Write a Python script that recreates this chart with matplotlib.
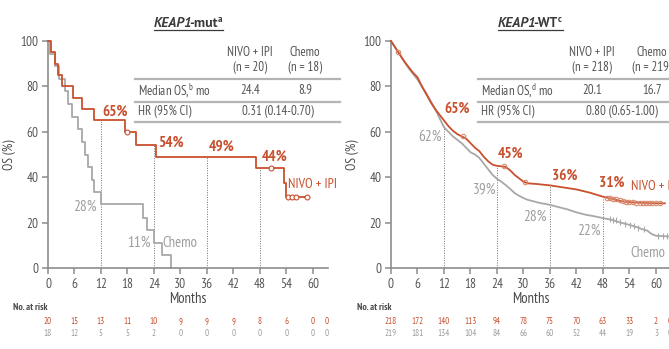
import matplotlib
matplotlib.use("Agg")
import matplotlib.pyplot as plt
from matplotlib import transforms
from matplotlib.lines import Line2D

NARROW = ['PT Sans Narrow', 'Archivo Narrow', 'Liberation Sans', 'DejaVu Sans']
plt.rcParams['font.family'] = NARROW
plt.rcParams['mathtext.fontset'] = 'custom'
plt.rcParams['mathtext.rm'] = 'PT Sans Narrow'

RED = '#c8502e'
GREY = '#a8a8a8'
GREY_TXT = '#9e9e9e'
DARK = '#4a4a4a'
AXC = '#8c8c8c'

# ---------------- data ----------------
# KEAP1-mut: Kaplan-Meier step curves (event times in months, OS %)
mut_nivo_t = [0, 0.6, 1.6, 2.3, 3.2, 5.7, 7.6, 10.4, 17.4, 20.0, 24.4, 47.0, 53.5, 53.8, 58.6]
mut_nivo_s = [100, 95, 90, 85, 80, 75, 70, 65, 60, 54, 49, 44, 37.5, 31.2, 31.2]
mut_nivo_cens_t = [17.8, 50.6, 54.4, 55.3, 56.2, 58.6]
mut_nivo_cens_s = [60, 44, 31.2, 31.2, 31.2, 31.2]

mut_chemo_t = [0, 0.5, 1.5, 2.5, 3.8, 4.6, 5.4, 6.8, 7.6, 8.3, 9.1, 9.9, 10.5, 11.95,
               21.4, 22.5, 24.0, 25.7, 27.8]
mut_chemo_s = [100, 94.4, 88.9, 83.3, 77.8, 72.2, 66.7, 61.1, 55.6, 50, 44.4, 38.9, 33.3, 28,
               22.2, 16.7, 11, 5.6, 0]

# KEAP1-WT: survival read at monthly points
wt_nivo_t = [0, 1, 2, 3, 4, 5, 6, 7, 8, 9, 10, 11, 12, 13, 14, 15, 16, 17, 18, 19, 20, 21,
             22, 23, 24, 25, 26, 27, 28, 29, 30, 31, 33, 36, 39, 42, 45, 48, 50, 52, 54, 56,
             58, 60, 62]
wt_nivo_s = [100, 97, 94, 91, 88.5, 86, 84, 80, 76.5, 73, 70, 67.5, 65, 62.5, 60.5, 59, 58,
             57, 55, 53, 51.5, 49, 47, 45.5, 45, 44.8, 44.5, 43, 41, 39.5, 38, 37.3, 37,
             36.4, 35.5, 34.6, 33.2, 31.4, 30.5, 29.5, 29, 28.8, 28.6, 28.5, 28.5]
wt_nivo_cens_t = [1.6, 16.3, 25.5, 30.3, 48.8, 49.5, 50.3, 51.0, 51.8, 52.5, 53.2, 54.0, 54.8,
                  55.5, 56.3, 57.0, 57.8, 58.5, 59.2, 60.0, 61.0]
wt_nivo_cens_s = [95, 58, 44.8, 38, 31, 30.8, 30.5, 30.2, 29.8, 29.5, 29.2, 29, 28.9, 28.8,
                  28.7, 28.7, 28.6, 28.6, 28.5, 28.5, 28.5]

wt_chemo_t = [0, 1, 2, 3, 4, 5, 6, 7, 8, 9, 10, 11, 12, 13, 14, 15, 16, 17, 18, 19, 20, 21,
              22, 23, 24, 25, 26, 27, 28, 29, 30, 31, 32, 33, 34, 35, 36, 38, 40, 42, 44, 46,
              48, 50, 52, 54, 56, 57, 58, 59, 60, 62, 63.4]
wt_chemo_s = [100, 97, 94, 91, 88, 85.5, 83, 80, 77, 73.5, 70, 66, 62, 60, 58, 56.5, 55, 53,
              51, 50, 48.5, 46, 43.5, 41, 39.3, 38, 36.5, 34.8, 33, 31.8, 30.8, 30, 29.5, 29,
              28.5, 28.2, 27.8, 26.8, 25.8, 24.5, 23.5, 22.8, 22, 21.2, 20, 19, 17.8, 17,
              16.5, 15, 14.2, 14, 13.8]
wt_chemo_cens_t = [49.5, 50.3, 51.0, 51.8, 53.0, 54.2, 55.0, 56.0, 57.2, 60.5, 61.5, 62.5]
wt_chemo_cens_s = [21.5, 21.2, 21, 20.2, 19.5, 19, 18.3, 17.8, 17, 14.2, 14, 13.9]

# landmark labels: month, value
mut_nivo_marks = [(12, 65), (24, 54), (36, 49), (48, 44)]
mut_chemo_marks = [(12, 28), (24, 11)]
wt_nivo_marks = [(12, 65), (24, 45), (36, 36), (48, 31)]
wt_chemo_marks = [(12, 62), (24, 39), (36, 28), (48, 22)]

# summary tables
mut_n = (20, 18)
mut_median = ('24.4', '8.9')
mut_hr = '0.31 (0.14-0.70)'
wt_n = (218, 219)
wt_median = ('20.1', '16.7')
wt_hr = '0.80 (0.65-1.00)'

# number at risk
risk_months = [0, 6, 12, 18, 24, 30, 36, 42, 48, 54, 60, 63.2]
risk_mut_nivo = [20, 15, 13, 11, 10, 9, 9, 9, 8, 6, 0, 0]
risk_mut_chemo = [18, 12, 5, 5, 2, 0, 0, 0, 0, 0, 0, 0]
risk_wt_nivo = [218, 172, 140, 113, 94, 78, 75, 70, 63, 33, 2, 0]
risk_wt_chemo = [219, 181, 134, 104, 84, 66, 60, 52, 44, 19, 3, 0]

x_ticks = list(range(0, 61, 6))
y_ticks = [0, 20, 40, 60, 80, 100]

# ---------------- figure ----------------
W, H = 669, 349
fig = plt.figure(figsize=(W / 100, H / 100), dpi=100)


def fx(px):
    return px / W


def fy(py):
    return 1 - py / H


def make_axes(left_px, label_px):
    ax = fig.add_axes([fx(left_px), fy(268), 280 / W, 227 / H])
    ax.set_xlim(0, 63.4)
    ax.set_ylim(0, 100)
    for s in ('top', 'right'):
        ax.spines[s].set_visible(False)
    for s in ('left', 'bottom'):
        ax.spines[s].set_color(AXC)
        ax.spines[s].set_linewidth(1.2)
    ax.set_xticks(x_ticks)
    ax.set_yticks(y_ticks)
    ax.tick_params(direction='out', length=4, width=1.1, color=AXC, labelcolor='#555555',
                   labelsize=9.5, pad=3)
    ax.set_xlabel('Months', fontsize=10.5, color=DARK, labelpad=1)
    ax.set_ylabel('OS (%)', fontsize=9.5, color=DARK)
    ax.yaxis.set_label_coords((label_px - left_px) / 280, 0.5)
    ax.patch.set_visible(False)
    return ax


ax1 = make_axes(48, 16)
ax2 = make_axes(391, 359)


def guides(ax, marks):
    for m, v in marks:
        ax.plot([m, m], [0, v], ls=(0, (1, 1.5)), lw=0.7, color='#707070', zorder=1)


# left panel curves
guides(ax1, mut_nivo_marks)
ax1.plot(mut_chemo_t, mut_chemo_s, drawstyle='steps-post', color=GREY, lw=1.3, zorder=2,
         clip_on=False)
ax1.plot(mut_nivo_t, mut_nivo_s, drawstyle='steps-post', color=RED, lw=1.3, zorder=3,
         clip_on=False)
ax1.plot(mut_nivo_cens_t, mut_nivo_cens_s, 'o', ms=3.5, mfc='white', mec=RED, mew=0.8,
         zorder=4, clip_on=False)

# right panel curves
guides(ax2, [(12, 63), (24, 45), (36, 36), (48, 31)])
ax2.plot(wt_chemo_t, wt_chemo_s, color=GREY, lw=1.3, zorder=2, clip_on=False)
ax2.plot(wt_chemo_cens_t, wt_chemo_cens_s, '|', ms=4, mew=0.8, color=GREY, zorder=2,
         clip_on=False)
ax2.plot(wt_nivo_t, wt_nivo_s, color=RED, lw=1.3, zorder=3, clip_on=False)
ax2.plot(wt_nivo_cens_t, wt_nivo_cens_s, 'o', ms=3.2, mfc='none', mec='#d98a6e', mew=0.8,
         zorder=4, clip_on=False)

# landmark percentages
lab_kw = dict(fontsize=11, clip_on=False)
ax1.text(12.2, 68.7, f'{mut_nivo_marks[0][1]}%', color=RED, weight='bold', ha='left', va='center', **lab_kw)
ax1.text(25.0, 55.0, f'{mut_nivo_marks[1][1]}%', color=RED, weight='bold', ha='left', va='center', **lab_kw)
ax1.text(36.5, 53.4, f'{mut_nivo_marks[2][1]}%', color=RED, weight='bold', ha='left', va='center', **lab_kw)
ax1.text(48.4, 48.8, f'{mut_nivo_marks[3][1]}%', color=RED, weight='bold', ha='left', va='center', **lab_kw)
ax1.text(11.1, 26.9, f'{mut_chemo_marks[0][1]}%', color=GREY_TXT, ha='right', va='center', **lab_kw)
ax1.text(23.3, 11.0, f'{mut_chemo_marks[1][1]}%', color=GREY_TXT, ha='right', va='center', **lab_kw)
ax1.text(26.0, 11.0, 'Chemo', color=GREY_TXT, ha='left', va='center', fontsize=10.5)
ax1.text(54.4, 37.0, 'NIVO + IPI', color=RED, ha='left', va='center', fontsize=10, clip_on=False)

ax2.text(12.0, 70.0, f'{wt_nivo_marks[0][1]}%', color=RED, weight='bold', ha='left', va='center', **lab_kw)
ax2.text(24.2, 50.2, f'{wt_nivo_marks[1][1]}%', color=RED, weight='bold', ha='left', va='center', **lab_kw)
ax2.text(36.5, 40.5, f'{wt_nivo_marks[2][1]}%', color=RED, weight='bold', ha='left', va='center', **lab_kw)
ax2.text(47.2, 37.4, f'{wt_nivo_marks[3][1]}%', color=RED, weight='bold', ha='left', va='center', **lab_kw)
ax2.text(11.5, 57.7, f'{wt_chemo_marks[0][1]}%', color=GREY_TXT, ha='right', va='center', **lab_kw)
ax2.text(23.8, 34.8, f'{wt_chemo_marks[1][1]}%', color=GREY_TXT, ha='right', va='center', **lab_kw)
ax2.text(35.3, 22.5, f'{wt_chemo_marks[2][1]}%', color=GREY_TXT, ha='right', va='center', **lab_kw)
ax2.text(47.5, 16.3, f'{wt_chemo_marks[3][1]}%', color=GREY_TXT, ha='right', va='center', **lab_kw)
ax2.text(54.4, 35.7, 'NIVO + IPI', color=RED, ha='left', va='center', fontsize=10, clip_on=False)
ax2.text(54.3, 6.6, 'Chemo', color=GREY_TXT, ha='left', va='center', fontsize=10.5, clip_on=False)


# ---------------- summary tables ----------------
def table(x0, x1, c_nivo, c_chemo, c_hr, n, med, hr, sup):
    tkw = dict(fontsize=9.3, color='#555555', va='center')
    fig.text(fx(c_nivo), fy(52), 'NIVO + IPI', ha='center', **tkw)
    fig.text(fx(c_nivo), fy(68), f'(n = {n[0]})', ha='center', **tkw)
    fig.text(fx(c_chemo), fy(52), 'Chemo', ha='center', **tkw)
    fig.text(fx(c_chemo), fy(68), f'(n = {n[1]})', ha='center', **tkw)
    fig.text(fx(x0 + 3), fy(91), r'Median OS,$^{\mathrm{' + sup + r'}}$ mo', ha='left', **tkw)
    fig.text(fx(c_nivo), fy(91), med[0], ha='center', **tkw)
    fig.text(fx(c_chemo), fy(91), med[1], ha='center', **tkw)
    fig.text(fx(x0 + 3), fy(112), 'HR (95% CI)', ha='left', **tkw)
    fig.text(fx(c_hr), fy(112), hr, ha='center', **tkw)
    for yy in (79, 102, 122):
        fig.add_artist(Line2D([fx(x0), fx(x1)], [fy(yy), fy(yy)], color='#b4b4b4', lw=1.6))


table(135, 340, 250, 305, 278, mut_n, mut_median, mut_hr, 'b')
table(478, 680, 592, 652, 622, wt_n, wt_median, wt_hr, 'd')


# ---------------- number at risk ----------------
def risk(ax, x_label_px, nivo, chemo):
    fig.text(fx(x_label_px), fy(308), 'No. at risk', fontsize=7, weight='bold', color=DARK,
             ha='left', va='center')
    tr = transforms.blended_transform_factory(ax.transData, fig.transFigure)
    for m, a, b in zip(risk_months, nivo, chemo):
        ax.text(m, fy(322), str(a), transform=tr, ha='center', va='center', fontsize=6.5,
                color=RED, clip_on=False)
        ax.text(m, fy(334), str(b), transform=tr, ha='center', va='center', fontsize=6.5,
                color=GREY_TXT, clip_on=False)


risk(ax1, 13, risk_mut_nivo, risk_mut_chemo)
risk(ax2, 357, risk_wt_nivo, risk_wt_chemo)


# ---------------- panel titles ----------------
TITLE_FONT = ['PT Sans', 'Liberation Sans', 'DejaVu Sans']


def title(center_px, pieces):
    fig.canvas.draw()
    r = fig.canvas.get_renderer()
    arts = []
    x = 0.0
    for txt, kw, raise_px, tighten in pieces:
        t = fig.text(0, fy(27 - raise_px), txt, ha='left', va='baseline', color='#3a3a3a',
                     family=TITLE_FONT, **kw)
        w = t.get_window_extent(r).width
        arts.append((t, x))
        x += w - tighten
    start = center_px - x / 2
    for t, off in arts:
        t.set_x(fx(start + off))
    fig.add_artist(Line2D([fx(start), fx(start + x + 1)], [fy(30), fy(30)],
                          color='#3a3a3a', lw=0.9))


title(188, [('KEAP1', dict(fontsize=10, weight='bold', style='italic'), 0, 3),
            ('-mut', dict(fontsize=10, weight='bold'), 0, 0),
            ('a', dict(fontsize=6.5, weight='bold'), 5, 0)])
title(530, [('KEAP1', dict(fontsize=10, weight='bold', style='italic'), 0, 3),
            ('-WT', dict(fontsize=10, weight='bold'), 0, 0),
            ('c', dict(fontsize=6.5, weight='bold'), 5, 0)])

fig.savefig('out.png', dpi=100)
